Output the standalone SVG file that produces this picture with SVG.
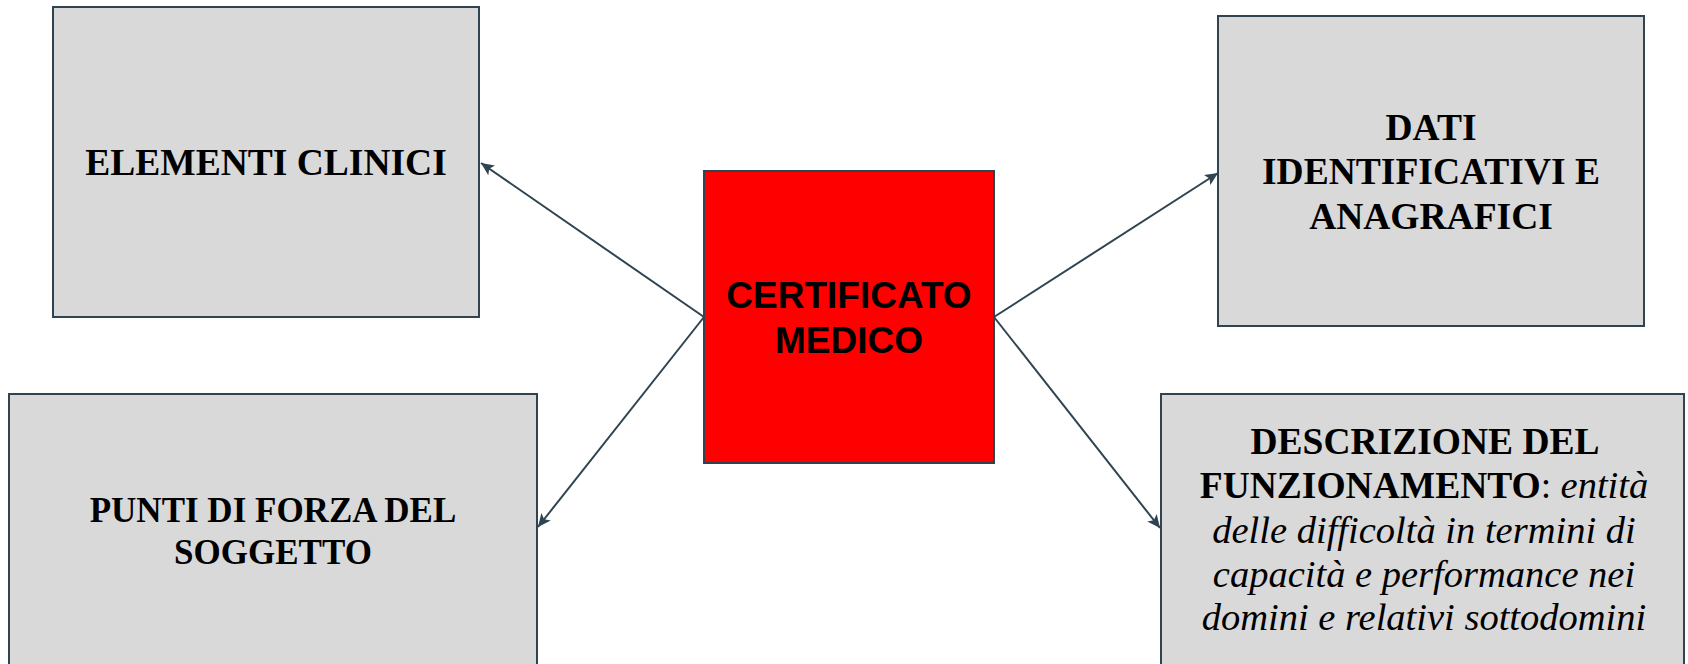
<svg xmlns="http://www.w3.org/2000/svg" width="1688" height="664" viewBox="0 0 1688 664">
<style>
.box{fill:#d9d9d9;stroke:#2f4450;stroke-width:2}
.center{fill:#ff0000;stroke:#2f4450;stroke-width:2}
.t{font-family:"Liberation Serif","Times New Roman",serif;font-size:37.5px;font-weight:bold;fill:#000;text-anchor:middle}
.ts{font-family:"Liberation Sans",Arial,sans-serif;font-size:37px;font-weight:bold;fill:#000;text-anchor:middle}
.sm{font-size:35px}
.it{font-style:italic;font-weight:normal;font-size:38.5px}
.rg{font-weight:normal}
.conn{stroke:#2f4450;stroke-width:2;fill:none;marker-end:url(#ah)}
</style>
<defs>
<marker id="ah" markerUnits="userSpaceOnUse" markerWidth="14" markerHeight="12" refX="13" refY="6" orient="auto">
<path d="M0,0 L13,6 L0,12 L3,6 Z" fill="#2f4450"/>
</marker>
</defs>
<rect width="1688" height="664" fill="#ffffff"/>
<g id="connectors">
<line class="conn" x1="704" y1="317" x2="481" y2="163"/>
<line class="conn" x1="704" y1="317" x2="538" y2="527"/>
<line class="conn" x1="994" y1="317" x2="1218" y2="173"/>
<line class="conn" x1="994" y1="317" x2="1160" y2="528"/>
</g>
<g id="elementi-clinici">
<rect class="box" x="53" y="7" width="426" height="310"/>
<text class="t" x="266" y="175">ELEMENTI CLINICI</text>
</g>
<g id="certificato-medico">
<rect class="center" x="704" y="171" width="290" height="292"/>
<text class="ts" x="849" y="308">CERTIFICATO</text>
<text class="ts" x="849" y="353">MEDICO</text>
</g>
<g id="dati-identificativi">
<rect class="box" x="1218" y="16" width="426" height="310"/>
<text class="t" x="1431" y="140">DATI</text>
<text class="t" x="1431" y="184">IDENTIFICATIVI E</text>
<text class="t" x="1431" y="229">ANAGRAFICI</text>
</g>
<g id="punti-di-forza">
<rect class="box" x="9" y="394" width="528" height="290"/>
<text class="t sm" x="273" y="522">PUNTI DI FORZA DEL</text>
<text class="t sm" x="273" y="564">SOGGETTO</text>
</g>
<g id="descrizione-funzionamento">
<rect class="box" x="1161" y="394" width="523" height="290"/>
<text class="t" x="1425" y="454">DESCRIZIONE DEL</text>
<text class="t" x="1424" y="498">FUNZIONAMENTO<tspan class="rg">:  </tspan><tspan class="it">entità</tspan></text>
<text class="t it" x="1424" y="543">delle difficoltà in termini di</text>
<text class="t it" x="1424" y="587">capacità e performance nei</text>
<text class="t it" x="1424" y="630">domini e relativi sottodomini</text>
</g>
</svg>
